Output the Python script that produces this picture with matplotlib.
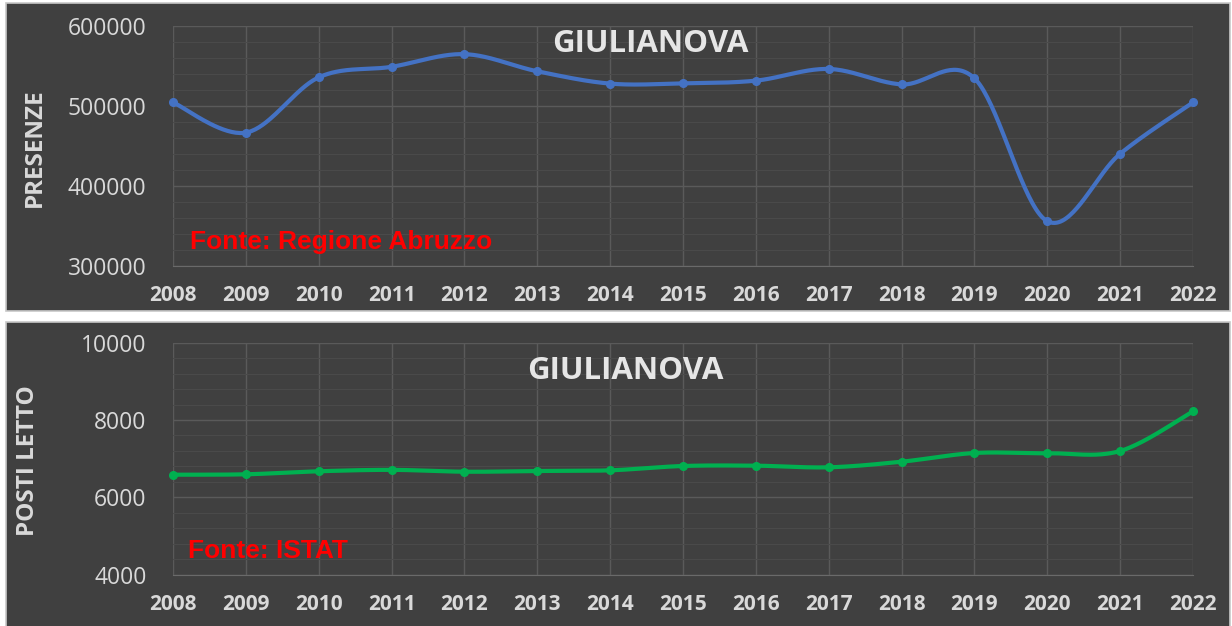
import numpy as np
import matplotlib.pyplot as plt
from matplotlib.patches import Rectangle
from matplotlib.ticker import MultipleLocator

# data
anni = [2008, 2009, 2010, 2011, 2012, 2013, 2014, 2015, 2016, 2017, 2018, 2019, 2020, 2021, 2022]
presenze = [504500, 466700, 535800, 549000, 564800, 543400, 528000, 528300, 531700, 546300,
            527000, 534600, 356000, 440300, 504500]
posti_letto = [6585, 6595, 6673, 6710, 6662, 6680, 6698, 6810, 6818, 6776,
               6921, 7146, 7140, 7198, 8225]

BG = '#404040'
TXT = '#d9d9d9'


def smooth(x, y, n=40):
    # Excel-like smoothed line (Catmull-Rom through bezier control points)
    x = np.asarray(x, float)
    y = np.asarray(y, float)
    px = np.concatenate([[x[0]], x, [x[-1]]])
    py = np.concatenate([[y[0]], y, [y[-1]]])
    xs, ys = [], []
    t = np.linspace(0, 1, n)
    for i in range(1, len(px) - 2):
        p0 = np.array([px[i], py[i]])
        p3 = np.array([px[i + 1], py[i + 1]])
        p1 = p0 + (p3 - np.array([px[i - 1], py[i - 1]])) / 6
        p2 = p3 - (np.array([px[i + 2], py[i + 2]]) - p0) / 6
        b = ((1 - t) ** 3)[:, None] * p0 + (3 * (1 - t) ** 2 * t)[:, None] * p1 \
            + (3 * (1 - t) * t ** 2)[:, None] * p2 + (t ** 3)[:, None] * p3
        xs.extend(b[:, 0])
        ys.extend(b[:, 1])
    return np.array(xs), np.array(ys)


W, H = 1232, 626
fig = plt.figure(figsize=(W / 100, H / 100), dpi=100)
fig.patch.set_facecolor('white')

# dark panels behind each chart
for (y0, y1) in [(3, 311), (322, 630)]:
    fig.patches.append(Rectangle((6 / W, 1 - y1 / H), 1224 / W, (y1 - y0) / H,
                                 transform=fig.transFigure, facecolor=BG,
                                 edgecolor='#c8c8c8', linewidth=1.2, zorder=-5))


def setup(ax, ylim, major, minor, ylabel, ylab_xy, title_xy, fonte, fonte_xy):
    ax.set_facecolor(BG)
    ax.set_xlim(anni[0], anni[-1])
    ax.set_ylim(*ylim)
    ax.set_xticks(anni)
    ax.xaxis.set_major_formatter(plt.FuncFormatter(lambda v, p: f'{int(v)}'))
    ax.yaxis.set_major_locator(MultipleLocator(major))
    ax.yaxis.set_minor_locator(MultipleLocator(minor))
    ax.yaxis.set_major_formatter(plt.FuncFormatter(lambda v, p: f'{int(v)}'))
    ax.grid(True, which='major', color='#5a5a5a', linewidth=1)
    ax.grid(True, which='minor', axis='y', color='#4a4a4a', linewidth=0.8)
    ax.set_axisbelow(True)
    for s in ax.spines.values():
        s.set_visible(False)
    ax.spines['bottom'].set_visible(True)
    ax.spines['bottom'].set_color('#6a6a6a')
    ax.tick_params(which='both', length=0)
    ax.tick_params(axis='y', pad=19, labelsize=16.5, labelcolor=TXT)
    ax.tick_params(axis='x', pad=14, labelsize=15, labelcolor=TXT)
    for lab in ax.get_yticklabels():
        lab.set_fontfamily('Open Sans')
    for lab in ax.get_xticklabels():
        lab.set_fontfamily('Open Sans')
        lab.set_fontweight('bold')
    fig.text(ylab_xy[0] / W, 1 - ylab_xy[1] / H, ylabel, rotation=90, ha='center', va='center',
             fontsize=17.5, fontweight='bold', color=TXT, family='Open Sans')
    fig.text(title_xy[0] / W, 1 - title_xy[1] / H, 'GIULIANOVA', ha='center', va='center',
             fontsize=22.5, fontweight='bold', color='#e6e6e6', family='Open Sans')
    fig.text(fonte_xy[0] / W, 1 - fonte_xy[1] / H, fonte, ha='left', va='center',
             fontsize=19, fontweight='bold', color='#ff0000', family='Liberation Sans')


# top chart: presenze
ax1 = fig.add_axes([173 / W, 1 - 266 / H, 1020 / W, 240 / H])
setup(ax1, (300000, 600000), 100000, 20000, 'PRESENZE', (35, 148), (650, 44),
      'Fonte: Regione Abruzzo', (190, 242))
sx, sy = smooth(anni, presenze)
ax1.plot(sx, sy, color='#4472C4', linewidth=3, solid_capstyle='round', clip_on=False)
ax1.plot(anni, presenze, 'o', color='#4472C4', markersize=5.5, clip_on=False)

# bottom chart: posti letto
ax2 = fig.add_axes([173 / W, 1 - 574.6 / H, 1020 / W, 231.9 / H])
setup(ax2, (4000, 10000), 2000, 400, 'POSTI LETTO', (28, 461), (625, 371),
      'Fonte: ISTAT', (188, 551))
sx, sy = smooth(anni, posti_letto)
ax2.plot(sx, sy, color='#00B050', linewidth=3, solid_capstyle='round', clip_on=False)
ax2.plot(anni, posti_letto, 'o', color='#00B050', markersize=5.5, clip_on=False)

fig.savefig('out.png', dpi=100, facecolor=fig.get_facecolor())
